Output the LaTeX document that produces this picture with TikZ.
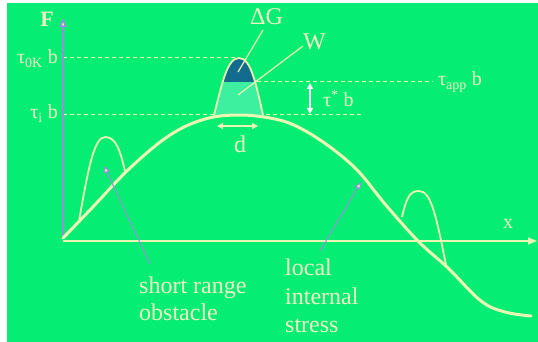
\documentclass[tikz,border=0pt]{standalone}
\usepackage{fontspec}
\setmainfont{Liberation Serif}
\usetikzlibrary{arrows.meta}
\definecolor{bg}{HTML}{05EE73}
\definecolor{pale}{HTML}{EAF6B4}
\definecolor{txt}{HTML}{F0F2C4}
\definecolor{darkb}{HTML}{136C8E}
\definecolor{teal}{HTML}{3CF0A0}
\definecolor{lav}{HTML}{9C8CE0}
\tikzset{
  lbl/.style={text=txt, inner sep=0pt, font=\fontsize{24}{26}\selectfont},
  tlbl/.style={text=txt, inner sep=0pt, font=\fontsize{20}{22}\selectfont},
  guide/.style={pale, line width=1pt, dash pattern=on 4pt off 3pt},
  curvemain/.style={pale, line width=3pt, line cap=round},
  bumpline/.style={pale, line width=1.8pt},
  pointer/.style={lav, line width=1pt, -{Triangle[length=7pt,width=6pt,fill=pale]}},
  dbl/.style={pale, line width=1.3pt, {Triangle[length=6pt,width=6pt]}-{Triangle[length=6pt,width=6pt]}},
  leader/.style={pale, line width=1.2pt}
}
\begin{document}
\begin{tikzpicture}[x=1pt,y=-1pt]
\fill[white] (0,0) rectangle (538,342);
\useasboundingbox (0,0) rectangle (538,342);
\fill[bg] (7,3) rectangle (538,342);

% coordinates
\coordinate (O) at (63,239);
\coordinate (ytop) at (63,18);
\coordinate (xend) at (537,241);
\coordinate (xstart) at (63,241);
\coordinate (g0a) at (63,58);  \coordinate (g0b) at (240,58);
\coordinate (gia) at (63,115); \coordinate (gib) at (361,115);
\coordinate (gaa) at (257,82); \coordinate (gab) at (433,82);

% dashed guides
\draw[guide] (g0a) -- (g0b);
\draw[guide] (gia) -- (gib);
\draw[guide] (gaa) -- (gab);

% central bump fill
\path[fill=teal] (214,115) .. controls (222,84) and (227,58) .. (239,58) .. controls (251,58) and (256,84) .. (263,115) -- cycle;
\begin{scope}
\clip (200,40) rectangle (280,82);
\path[fill=darkb] (214,115) .. controls (222,84) and (227,58) .. (239,58) .. controls (251,58) and (256,84) .. (263,115) -- cycle;
\end{scope}
\draw[bumpline] (214,115) .. controls (222,84) and (227,58) .. (239,58) .. controls (251,58) and (256,84) .. (263,115);

% axes
\draw[lav, line width=1.5pt, -{Triangle[length=9pt,width=7pt,fill=pale]}] (O) -- (ytop);
\draw[pale, line width=1.5pt, -{Triangle[length=9pt,width=7pt]}] (xstart) -- (xend);

% small obstacle bumps
\draw[bumpline] (79,221) .. controls (88,170) and (94,137) .. (105,137) .. controls (116,137) and (120,150) .. (125,171);
\draw[bumpline] (402,217) .. controls (407,195) and (411,191) .. (419,191) .. controls (431,191) and (436,215) .. (446,265);

% main curve
\draw[curvemain] plot[smooth, tension=0.6] coordinates {(63,238) (90,210) (130,168) (170,135) (205,119) (240,115) (275,119) (300,128) (330,147) (358,171) (385,204) (418,241) (448,268) (481,301) (505,312) (531,316)};

% leaders
\coordinate (dgA) at (263,30); \coordinate (dgB) at (238,72);
\coordinate (wA) at (303,46);  \coordinate (wB) at (238,95);
\draw[leader] (dgA) -- (dgB);
\draw[leader] (wA) -- (wB);

% d and tau* arrows
\coordinate (dA) at (217,126); \coordinate (dB) at (258,126);
\draw[dbl] (dA) -- (dB);
\coordinate (tA) at (310,83); \coordinate (tB) at (310,114);
\draw[dbl, white] (tA) -- (tB);

% pointers
\coordinate (p1s) at (150,264); \coordinate (p1e) at (104,166);
\draw[pointer] (p1s) -- (p1e);
\coordinate (p2s) at (320,251); \coordinate (p2e) at (361,182);
\draw[pointer] (p2s) -- (p2e);

% labels
\node[text=txt, inner sep=0pt, font=\fontsize{22}{24}\selectfont\bfseries, anchor=base] (F) at (47,27) {F};
\node[tlbl, anchor=base east] (t0) at (58,64) {τ\textsubscript{0K} b};
\node[tlbl, anchor=base east] (ti) at (58,119) {τ\textsubscript{i} b};
\node[tlbl, anchor=base west] (tapp) at (438,86) {τ\textsubscript{app} b};
\node[tlbl, anchor=base west] (tstar) at (323,107) {τ\textsuperscript{*} b};
\node[lbl, anchor=base west] (DG) at (250,25) {ΔG};
\node[lbl, anchor=base west] (W) at (303,50) {W};
\node[lbl, anchor=base] (d) at (240,153) {d};
\node[tlbl, anchor=base] (x) at (508,228) {x};
\node[lbl, anchor=base west] (s1) at (139,293) {short range};
\node[lbl, anchor=base west] (s2) at (139,320) {obstacle};
\node[lbl, anchor=base west] (l1) at (285,275) {local};
\node[lbl, anchor=base west] (l2) at (285,304) {internal};
\node[lbl, anchor=base west] (l3) at (285,332) {stress};
\end{tikzpicture}
\end{document}
